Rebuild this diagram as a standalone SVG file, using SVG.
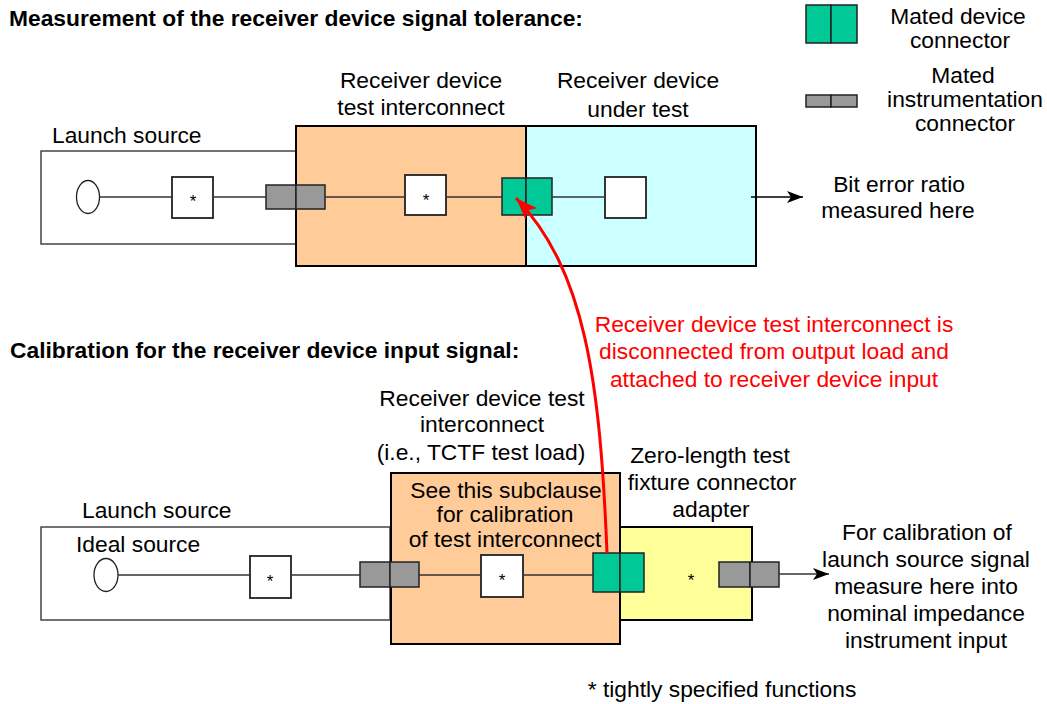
<svg xmlns="http://www.w3.org/2000/svg" width="1047" height="704" viewBox="0 0 1047 704">
<style>
text{font-family:"Liberation Sans",Arial,sans-serif;font-size:22.8px;fill:#000}
.t{font-weight:bold;font-size:22.8px}
.c{text-anchor:middle}
.red{fill:#ff0000}
.star{font-size:17px;text-anchor:middle}
.src{fill:#fff;stroke:#444;stroke-width:1.5}
.org{fill:#ffcc99;stroke:#000;stroke-width:2}
.cyn{fill:#ccffff;stroke:#000;stroke-width:2}
.yel{fill:#ffff99;stroke:#000;stroke-width:2}
.fn{fill:#fff;stroke:#222;stroke-width:1.8}
.dev{fill:#00c896;stroke:#222;stroke-width:1.5}
.ins{fill:#999;stroke:#222;stroke-width:1.5}
.w{stroke:#333;stroke-width:1.3;fill:none}
</style>
<defs>
<marker id="ab" markerUnits="userSpaceOnUse" markerWidth="18" markerHeight="14" refX="16" refY="6" orient="auto">
<path d="M0,0 L16,6 L0,12 L4,6 z" fill="#000"/>
</marker>
<marker id="ar" markerUnits="userSpaceOnUse" markerWidth="24" markerHeight="18" refX="22" refY="8" orient="auto">
<path d="M0,0 L22,8 L0,16 L5,8 z" fill="#ff0000"/>
</marker>
</defs>

<text class="t" x="9" y="26">Measurement of the receiver device signal tolerance:</text>
<text class="t" x="10" y="358">Calibration for the receiver device input signal:</text>

<g id="legend-device">
<rect class="dev" x="806" y="5" width="25" height="38"/>
<rect class="dev" x="831" y="5" width="26" height="38"/>
<text class="c" x="958" y="24">Mated device</text>
<text class="c" x="960" y="48">connector</text>
</g>
<g id="legend-instr">
<rect class="ins" x="806" y="95" width="25" height="12"/>
<rect class="ins" x="831" y="95" width="26" height="12"/>
<text class="c" x="963" y="83">Mated</text>
<text class="c" x="965" y="107">instrumentation</text>
<text class="c" x="965" y="131">connector</text>
</g>

<g id="top-launch">
<rect class="src" x="41" y="151" width="255" height="93"/>
<text x="52" y="143">Launch source</text>
<ellipse cx="88" cy="197" rx="11.5" ry="16.5" fill="#fff" stroke="#222" stroke-width="1.3"/>
<rect class="fn" x="172" y="177" width="41" height="41" stroke="#555" stroke-width="1.3"/>
<text class="star" x="193" y="207">*</text>
</g>
<g id="top-interconnect">
<rect class="org" x="296" y="126" width="230" height="140"/>
<text class="c" x="421" y="88">Receiver device</text>
<text class="c" x="421" y="115">test interconnect</text>
<rect class="fn" x="405" y="175" width="41" height="40"/>
<text class="star" x="426" y="206">*</text>
</g>
<g id="top-dut">
<rect class="cyn" x="526" y="126" width="230" height="140"/>
<text class="c" x="638" y="88">Receiver device</text>
<text class="c" x="638" y="117">under test</text>
<rect class="fn" x="605" y="177" width="41" height="41"/>
</g>
<g id="top-instr-conn">
<rect class="ins" x="266" y="185" width="30" height="24"/>
<rect class="ins" x="296" y="185" width="29" height="24"/>
</g>
<g id="top-dev-conn">
<rect class="dev" x="502" y="178" width="24" height="37"/>
<rect class="dev" x="526" y="178" width="26" height="37"/>
</g>
<g id="top-ber">
<text class="c" x="899" y="192">Bit error ratio</text>
<text class="c" x="898" y="218">measured here</text>
</g>

<g id="bot-launch">
<rect class="src" x="41" y="527" width="349" height="93"/>
<text x="82" y="518">Launch source</text>
<text x="76" y="552">Ideal source</text>
<ellipse cx="106" cy="575" rx="12" ry="16.5" fill="#fff" stroke="#222" stroke-width="1.3"/>
<rect class="fn" x="250" y="556" width="41" height="42" stroke="#555" stroke-width="1.3"/>
<text class="star" x="270" y="587">*</text>
</g>
<g id="bot-interconnect">
<rect class="org" x="391" y="473" width="229" height="171"/>
<text class="c" x="482" y="406">Receiver device test</text>
<text class="c" x="482" y="432">interconnect</text>
<text class="c" x="481" y="460">(i.e., TCTF test load)</text>
<text class="c" x="506" y="498">See this subclause</text>
<text class="c" x="505" y="522">for calibration</text>
<text class="c" x="505" y="547">of test interconnect</text>
<rect class="fn" x="481" y="555" width="42" height="42"/>
<text class="star" x="502" y="586">*</text>
</g>
<g id="bot-adapter">
<rect class="yel" x="620" y="527" width="132" height="93"/>
<text class="c" x="710" y="463">Zero-length test</text>
<text class="c" x="712" y="490">fixture connector</text>
<text class="c" x="711" y="517">adapter</text>
<text class="star" x="691" y="586">*</text>
</g>
<g id="bot-instr-conn-1">
<rect class="ins" x="360" y="562" width="30" height="25"/>
<rect class="ins" x="390" y="562" width="29" height="25"/>
</g>
<g id="bot-dev-conn">
<rect class="dev" x="593" y="553" width="27" height="39"/>
<rect class="dev" x="620" y="553" width="24" height="39"/>
</g>
<g id="bot-instr-conn-2">
<rect class="ins" x="719" y="562" width="31" height="25"/>
<rect class="ins" x="750" y="562" width="29" height="25"/>
</g>
<g id="bot-measure">
<text class="c" x="927" y="540">For calibration of</text>
<text class="c" x="926" y="567">launch source signal</text>
<text class="c" x="926" y="594">measure here into</text>
<text class="c" x="926" y="621">nominal impedance</text>
<text class="c" x="926" y="648">instrument input</text>
</g>
<g id="note">
<text class="c" x="722" y="697">* tightly specified functions</text>
</g>
<g id="red-note">
<text class="c red" x="774" y="332">Receiver device test interconnect is</text>
<text class="c red" x="774" y="359">disconnected from output load and</text>
<text class="c red" x="774" y="387">attached to receiver device input</text>
</g>

<g id="connectors">
<line class="w" x1="100" y1="197" x2="172" y2="197"/>
<line class="w" x1="213" y1="197" x2="266" y2="197"/>
<line class="w" x1="325" y1="197" x2="405" y2="197"/>
<line class="w" x1="446" y1="197" x2="502" y2="197"/>
<line class="w" x1="552" y1="197" x2="605" y2="197"/>
<line x1="751" y1="197" x2="803" y2="197" stroke="#000" stroke-width="1.5" marker-end="url(#ab)"/>
<line class="w" x1="118" y1="575" x2="250" y2="575"/>
<line class="w" x1="291" y1="575" x2="360" y2="575"/>
<line class="w" x1="419" y1="575" x2="481" y2="575"/>
<line class="w" x1="523" y1="575" x2="593" y2="575"/>
<line x1="779" y1="574" x2="829" y2="574" stroke="#333" stroke-width="1.5" marker-end="url(#ab)"/>
<path d="M607,553 C600,380 585,270 516,198" fill="none" stroke="#ff0000" stroke-width="3" marker-end="url(#ar)"/>
</g>
</svg>
